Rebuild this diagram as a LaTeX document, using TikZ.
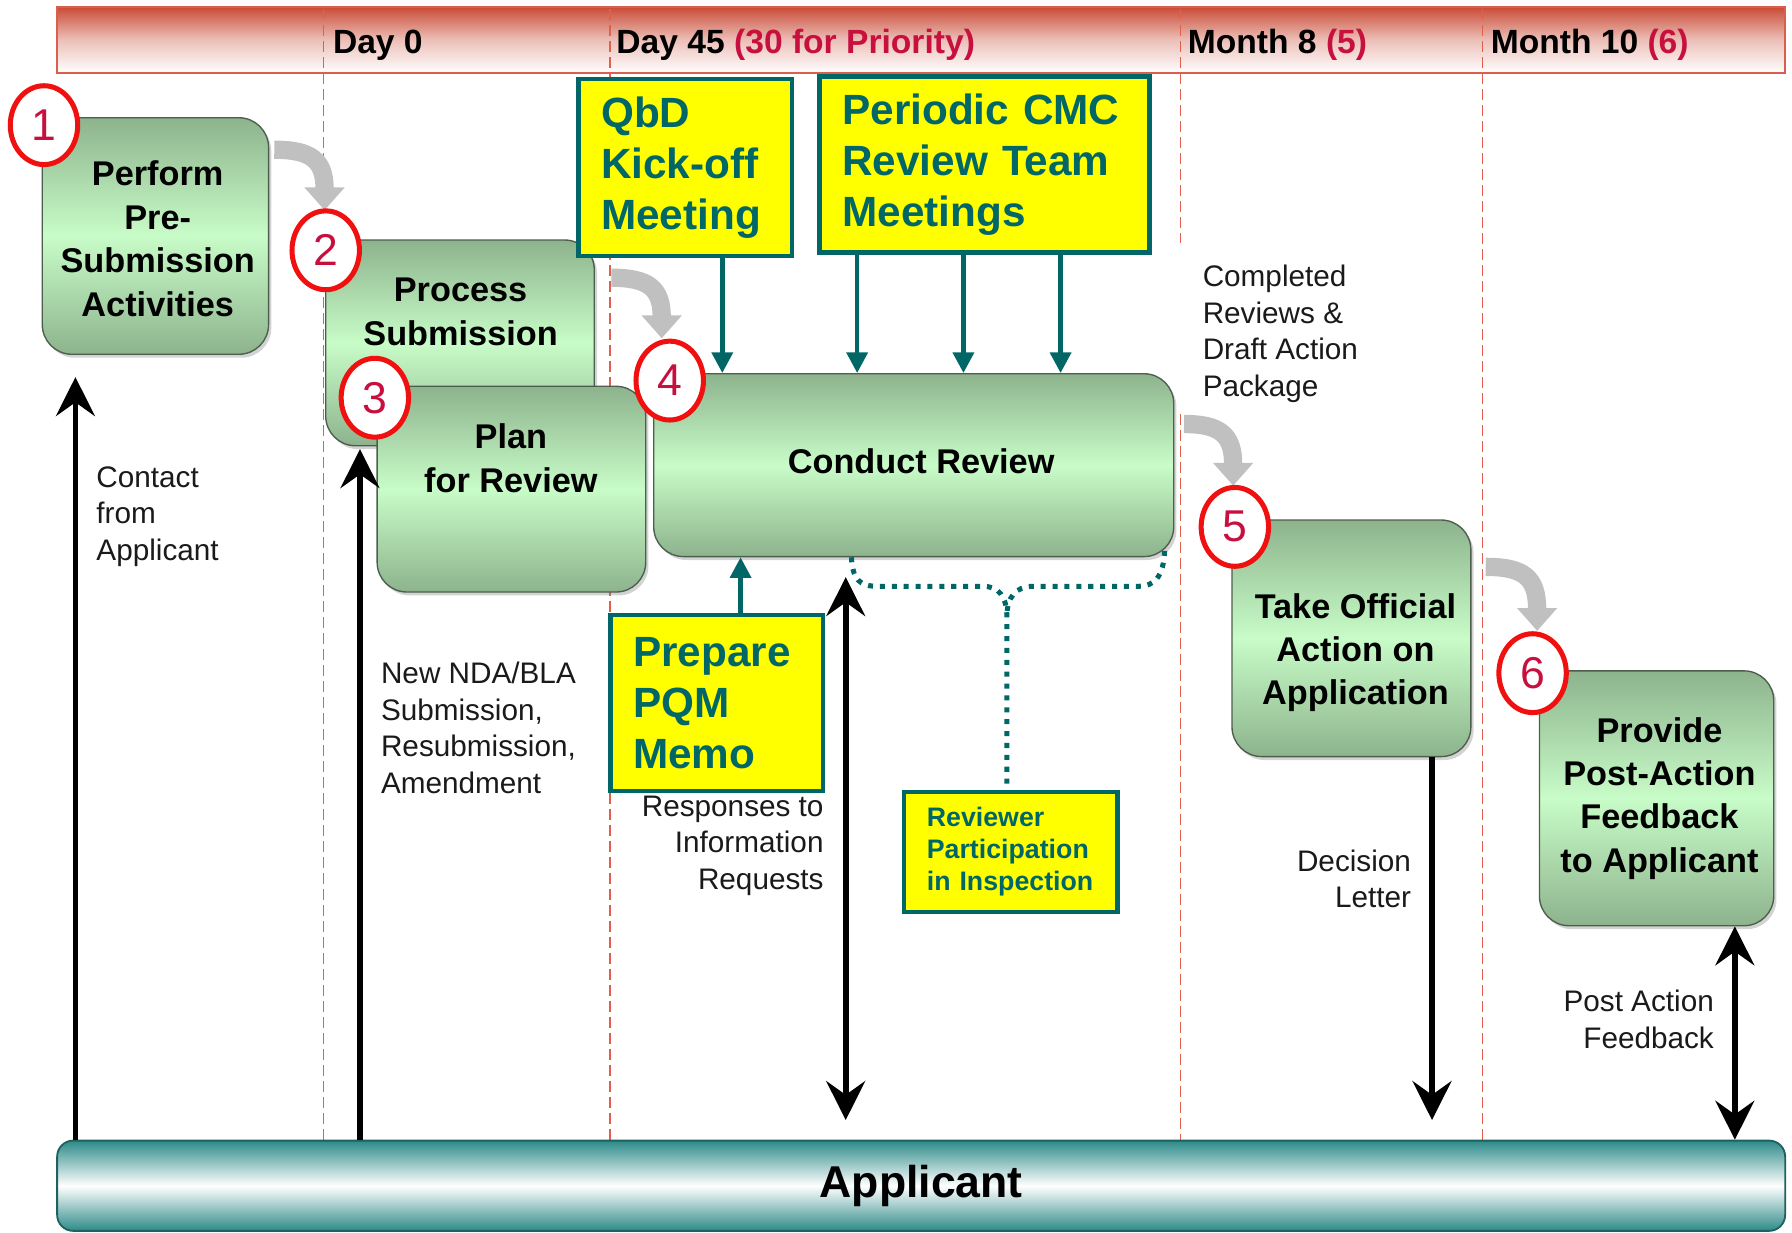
\documentclass[tikz,border=0pt]{standalone}
\usepackage{fontspec}
\setmainfont{Liberation Sans}
\usetikzlibrary{arrows.meta,shadows,shapes.geometric,calc}
\definecolor{crim}{HTML}{C8103F}
\definecolor{ringred}{HTML}{F01010}
\definecolor{gdark}{HTML}{8DB38D}
\definecolor{glight}{HTML}{C8FCC8}
\definecolor{gborder}{HTML}{4E5E4E}
\definecolor{tealc}{HTML}{006666}
\definecolor{yel}{HTML}{FFFF00}
\definecolor{hdrred}{HTML}{C94B36}
\definecolor{hdrline}{HTML}{D8604C}
\definecolor{vline}{HTML}{E0604A}
\definecolor{grayarr}{HTML}{C0C0C0}
\definecolor{appteal}{HTML}{2C8A88}
\definecolor{lblc}{HTML}{1A1A1A}
\tikzset{
  hdrbar/.style={draw=hdrline, line width=0.8pt, top color=hdrred, bottom color=white, middle color=hdrred!35, minimum width=756pt, minimum height=29pt, inner sep=0pt},
  vdash/.style={draw=vline, line width=0.7pt, dash pattern=on 4.8pt off 2.2pt},
  hdrtxt/.style={font=\bfseries\fontsize{14.7}{17}\selectfont, inner sep=0pt, anchor=base west},
  gbox/.style={draw=gborder, line width=0.6pt, rounded corners=13pt, top color=gdark, bottom color=gdark, middle color=glight, drop shadow={opacity=0.35, shadow xshift=1.2pt, shadow yshift=-1.5pt}, inner sep=0pt},
  btxt/.style={font=\bfseries\fontsize{15}{19}\selectfont, align=center, inner sep=0pt},
  numc/.style={ellipse, draw=ringred, line width=2.2pt, fill=white, minimum width=29.5pt, minimum height=34.5pt, inner sep=0pt, text=crim, font=\fontsize{19.5}{20}\selectfont},
  ybox/.style={draw=tealc, line width=2pt, fill=yel, text=tealc, align=left, inner xsep=10pt, inner ysep=0pt},
  ybig/.style={font=\bfseries\fontsize{18.5}{22.3}\selectfont},
  ysmall/.style={font=\bfseries\fontsize{11.7}{14}\selectfont},
  lbl/.style={font=\fontsize{13}{16}\selectfont, text=lblc, inner sep=0pt},
  garrow/.style={draw=grayarr, line width=8pt, -{Triangle[length=10pt,width=17pt]}},
  tarrow/.style={draw=tealc, line width=2pt, -{Triangle[length=9pt,width=9pt]}},
  dotc/.style={draw=tealc, line width=2.2pt, dash pattern=on 2.2pt off 3pt},
  blk/.style={line width=2.5pt, -{Stealth[length=17pt,width=17pt,inset=6pt]}},
  dbl/.style={line width=2.5pt, {Stealth[length=17pt,width=17pt,inset=6pt]}-{Stealth[length=17pt,width=17pt,inset=6pt]}},
  appbar/.style={draw=appteal!70!black, line width=0.8pt, rounded corners=7pt, top color=appteal, bottom color=appteal, middle color=white, minimum width=756pt, minimum height=39.5pt, inner sep=0pt, font=\bfseries\fontsize{19.5}{21}\selectfont}
}
\begin{document}
\begin{tikzpicture}[x=0.5pt,y=-0.5pt]
\useasboundingbox (0,0) rectangle (1568,1078);

% header band
\node[hdrbar] (hdr) at (806,35) {};
% vertical time lines
\foreach \xx in {283,534,1297} \draw[vdash] (\xx,8) -- (\xx,998);
\draw[vdash] (1033,8) -- (1033,213);
\draw[vdash] (1033,362) -- (1033,998);
% header labels
\node[hdrtxt] (h0) at (291,47) {Day 0};
\node[hdrtxt] (h45) at (539,47) {Day 45 \textcolor{crim}{(30 for Priority)}};
\node[hdrtxt] (hm8) at (1039,47) {Month 8 \textcolor{crim}{(5)}};
\node[hdrtxt] (hm10) at (1304,47) {Month 10 \textcolor{crim}{(6)}};

% applicant bar
\node[appbar] (app) at (806,1037.5) {Applicant};

% process boxes
\node[gbox, minimum width=99pt, minimum height=103.5pt] (b1) at (136,206.5) {};
\node[gbox, minimum width=117.5pt, minimum height=90pt] (b2) at (402.5,300) {};
\node[gbox, minimum width=117.5pt, minimum height=90pt] (b3) at (447.5,428) {};
\node[gbox, minimum width=227.5pt, minimum height=80pt] (b4) at (799.5,407) {};
\node[gbox, minimum width=104.5pt, minimum height=103.5pt] (b5) at (1182.5,558.5) {};
\node[gbox, minimum width=102.5pt, minimum height=111.5pt] (b6) at (1449.5,698.5) {};

\node[btxt] (t1) at (138,209) {Perform\\Pre-\\Submission\\Activities};
\node[btxt] (t2) at (403,273) {Process\\Submission};
\node[btxt] (t3) at (447,401) {Plan\\for Review};
\node[btxt] (t4) at (806,404) {Conduct Review};
\node[btxt] (t5) at (1186,571) {Take Official\\Action on\\Application};
\node[btxt] (t6) at (1452,698.5) {Provide\\Post-Action\\Feedback\\to Applicant};

% gray flow arrows
\coordinate (ga1) at (240,131);  \coordinate (ge1) at (284,184);
\coordinate (ga2) at (535,243);  \coordinate (ge2) at (579,296);
\coordinate (ga3) at (1036,371); \coordinate (ge3) at (1079,425);
\coordinate (ga4) at (1300,496); \coordinate (ge4) at (1345,552);
\draw[garrow] (ga1) .. controls (272,131) and (284,140) .. (ge1);
\draw[garrow] (ga2) .. controls (567,243) and (579,252) .. (ge2);
\draw[garrow] (ga3) .. controls (1067,371) and (1079,380) .. (ge3);
\draw[garrow] (ga4) .. controls (1333,496) and (1345,505) .. (ge4);

% step numbers
\node[numc] (n1) at (38.5,109.5) {1};
\node[numc] (n2) at (285,219) {2};
\node[numc] (n3) at (328,348) {3};
\node[numc] (n4) at (586,333) {4};
\node[numc] (n5) at (1080.5,461) {5};
\node[numc] (n6) at (1341,589) {6};

% yellow boxes
\node[ybox, ybig, text width=73.5pt, minimum height=77.5pt] (qbd) at (599.5,146.5) {QbD\\Kick-off\\Meeting};
\node[ybox, ybig, text width=124.5pt, minimum height=77pt] (per) at (861.5,144) {Periodic CMC\\Review Team\\Meetings};
\node[ybox, ybig, text width=73pt, minimum height=77pt] (pqm) at (627,615) {Prepare\\PQM\\Memo};
\node[ybox, ysmall, text width=73.5pt, minimum height=52.5pt] (rvp) at (884.5,745.5) {Reviewer\\Participation\\in Inspection};

% teal arrows
\coordinate (xq) at (632,0);
\coordinate (xp1) at (750,0);
\coordinate (xp2) at (843,0);
\coordinate (xp3) at (928,0);
\coordinate (xm) at (648,0);
\draw[tarrow] (qbd.south -| xq) -- (b4.north -| xq);
\draw[tarrow] (per.south -| xp1) -- (b4.north -| xp1);
\draw[tarrow] (per.south -| xp2) -- (b4.north -| xp2);
\draw[tarrow] (per.south -| xp3) -- (b4.north -| xp3);
\draw[tarrow] (pqm.north -| xm) -- (b4.south -| xm);

% dotted brace to inspection box
\coordinate (dl) at (745,0);
\coordinate (dr) at (1019,482);
\coordinate (xv) at (881,0);
\draw[dotc] (b4.south -| dl) .. controls (746,507) and (752,513) .. (768,513) -- (860,513) .. controls (874,513) and (881,522) .. (881,540) -- (rvp.north -| xv);
\draw[dotc] (dr) .. controls (1018,505) and (1010,513) .. (996,513) -- (904,513) .. controls (889,513) and (881,522) .. (881,540);

% black arrows with applicant
\coordinate (k1) at (66,330);
\coordinate (k2) at (315,393);
\coordinate (k3t) at (740,505);
\coordinate (k3b) at (740,980);
\coordinate (k4) at (1253,980);
\coordinate (k5) at (1518,0);
\draw[blk] (app.north -| k1) -- (k1);
\draw[blk] (app.north -| k2) -- (k2);
\draw[dbl] (k3b) -- (k3t);
\draw[blk] (b5.south -| k4) -- (k4);
\draw[dbl] (app.north -| k5) -- (b6.south -| k5);

% labels
\node[lbl, align=left, anchor=west] (lc) at (84,452) {Contact\\from\\Applicant};
\node[lbl, align=left, anchor=west] (ln) at (333,637) {New NDA/BLA\\Submission,\\Resubmission,\\Amendment};
\node[lbl, align=right, anchor=east] (lr) at (721,740) {Responses to\\Information\\Requests};
\node[lbl, align=right, anchor=east] (ld) at (1235,769) {Decision\\Letter};
\node[lbl, align=right, anchor=east] (lp) at (1500,892) {Post Action\\Feedback};
\node[lbl, align=left, anchor=west] (lq) at (1052,292) {Completed\\Reviews \&\\Draft Action\\Package};
\end{tikzpicture}
\end{document}
